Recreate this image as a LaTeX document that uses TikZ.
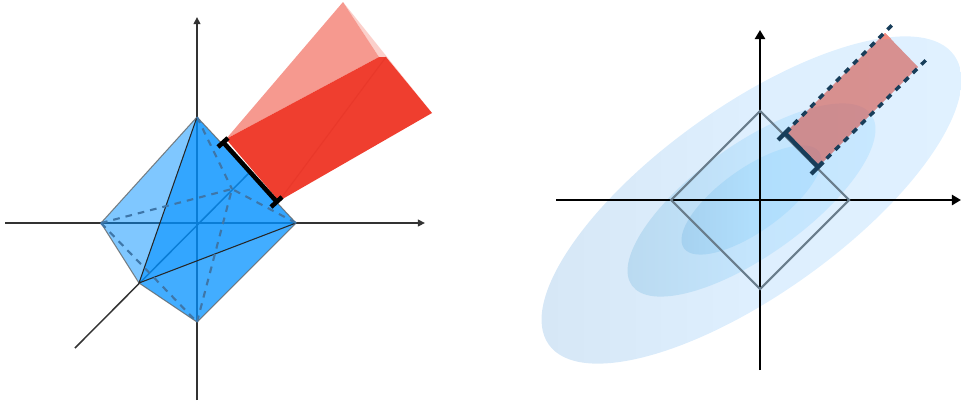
\documentclass[tikz,border=0pt]{standalone}
\usetikzlibrary{arrows.meta}
\definecolor{facecol}{RGB}{0,144,255}
\definecolor{dashcol}{RGB}{62,118,168}
\definecolor{navy}{RGB}{24,62,90}
\definecolor{slate}{RGB}{105,125,140}
\definecolor{redtint}{RGB}{211,80,70}
\definecolor{redtip}{RGB}{240,140,128}
\definecolor{redfringe}{RGB}{251,208,203}
\definecolor{redlight}{RGB}{246,153,143}
\definecolor{reddark}{RGB}{239,62,47}
\definecolor{redseam}{RGB}{233,56,42}
\definecolor{oa}{RGB}{213,230,245}
\definecolor{ob}{RGB}{222,239,254}
\definecolor{oc}{RGB}{224,241,255}
\definecolor{ma}{RGB}{185,217,239}
\definecolor{mb}{RGB}{196,229,253}
\definecolor{mc}{RGB}{200,232,255}
\definecolor{ia}{RGB}{165,208,238}
\definecolor{ib}{RGB}{176,222,252}
\definecolor{ic}{RGB}{180,224,255}
\tikzset{
  axisline/.style={black!80,line width=0.42pt},
  bigaxis/.style={black,line width=0.62pt,-{Triangle[length=2.6pt,width=2.9pt]}},
  smalltip/.style={-{Triangle[length=2pt,width=1.9pt]}},
  faceedge/.style={black!60,line width=0.3pt,opacity=.8},
  frontedge/.style={black!85,line width=0.3pt},
  hiddenedge/.style={dashcol,line width=0.6pt,dash pattern=on 1.9pt off 1.7pt},
  barline/.style={black,line width=1.3pt},
  navybar/.style={navy,line width=1.2pt},
  navydash/.style={navy,line width=1pt,dash pattern=on 1.7pt off 1.75pt},
}
\begin{document}
\begin{tikzpicture}[x=0.01cm,y=-0.01cm]
\useasboundingbox (0,0) rectangle (961,403);
% ---------- left panel
\coordinate (O) at (197,223);
\coordinate (T) at (197,117);
\coordinate (L) at (101,223);
\coordinate (R) at (296,223);
\coordinate (B) at (197,322);
\coordinate (F) at (139,283);
\coordinate (K) at (232,189);
\coordinate (AxN) at (197,17);
\coordinate (AxS) at (197,400);
\coordinate (AxW) at (5,223);
\coordinate (AxE) at (425,223);
\coordinate (AxD) at (75,348);
\coordinate (AxU) at (250,172);
\draw[axisline,smalltip] (AxS) -- (AxN);
\draw[axisline,smalltip] (AxW) -- (AxE);
\draw[axisline] (AxD) -- (AxU);
\fill[facecol,opacity=.5] (T) -- (L) -- (F) -- cycle;
\fill[facecol,opacity=.8] (T) -- (F) -- (R) -- cycle;
\fill[facecol,opacity=.74] (F) -- (R) -- (B) -- cycle;
\draw[faceedge] (T) -- (L) -- (F) -- (B) -- (R) -- (T);
\draw[frontedge] (T) -- (F) -- (R);
\draw[hiddenedge] (T) -- (K);
\draw[hiddenedge] (R) -- (K);
\draw[hiddenedge] (L) -- (K);
\draw[hiddenedge] (B) -- (K);
\draw[hiddenedge] (L) -- (B);
% red frustum
\coordinate (A1) at (226,139);
\coordinate (A2) at (279,201);
\coordinate (P1) at (343,2);
\coordinate (P2) at (432,113);
\coordinate (P3) at (379,57);
\coordinate (P4) at (386,57);
\fill[redfringe] (P1) -- (P2) -- (P4) -- (P3) -- cycle;
\fill[redlight] (A1) -- (P1) -- (P3) -- cycle;
\fill[reddark] (A1) -- (P3) -- (P4) -- (P2) -- (A2) -- cycle;
\draw[redseam,line width=0.3pt] (A2) -- (P4);
\coordinate (G1) at (223,142);
\coordinate (G2) at (277,202);
\coordinate (G1a) at (218,147);
\coordinate (G1b) at (228,138);
\coordinate (G2a) at (271,207);
\coordinate (G2b) at (282,197);
\draw[barline] (G1) -- (G2);
\draw[barline] (G1a) -- (G1b);
\draw[barline] (G2a) -- (G2b);
% ---------- right panel
\begin{scope}[shift={(751.5,200)},rotate=35.5]
\shade[left color=oa,right color=oc,middle color=ob] (0,0) ellipse [x radius=249,y radius=94];
\shade[left color=ma,right color=mc,middle color=mb] (0,0) ellipse [x radius=147,y radius=55.5];
\shade[left color=ia,right color=ic,middle color=ib] (0,0) ellipse [x radius=83,y radius=31.5];
\end{scope}
\coordinate (c) at (760,200);
\coordinate (dT) at (760,111);
\coordinate (dR) at (849,200);
\coordinate (dB) at (760,289);
\coordinate (dL) at (671,200);
\coordinate (vN) at (760,30);
\coordinate (vS) at (760,370);
\coordinate (hW) at (556,200);
\coordinate (hE) at (961,200);
\coordinate (r1) at (785,133);
\coordinate (r2) at (818,167);
\coordinate (r3) at (885,33);
\coordinate (r4) at (918,67);
\coordinate (r3a) at (879,39);
\coordinate (r3b) at (891,39);
\fill[redtint,opacity=.6] (r1) -- (r3) -- (r4) -- (r2) -- cycle;
\fill[redtip] (r3) -- (r3a) -- (r3b) -- cycle;
\draw[bigaxis] (vS) -- (vN);
\draw[bigaxis] (hW) -- (hE);
\draw[slate,line width=0.6pt] (dT) -- (dR) -- (dB) -- (dL) -- cycle;
\coordinate (e1) at (892,25);
\coordinate (e2) at (926,60);
\coordinate (t1a) at (778,140);
\coordinate (t1b) at (790,128);
\coordinate (t2a) at (811,174);
\coordinate (t2b) at (823,162);
\draw[navydash] (r1) -- (e1);
\draw[navydash] (r2) -- (e2);
\draw[navybar] (r1) -- (r2);
\draw[navybar] (t1a) -- (t1b);
\draw[navybar] (t2a) -- (t2b);
\end{tikzpicture}
\end{document}
